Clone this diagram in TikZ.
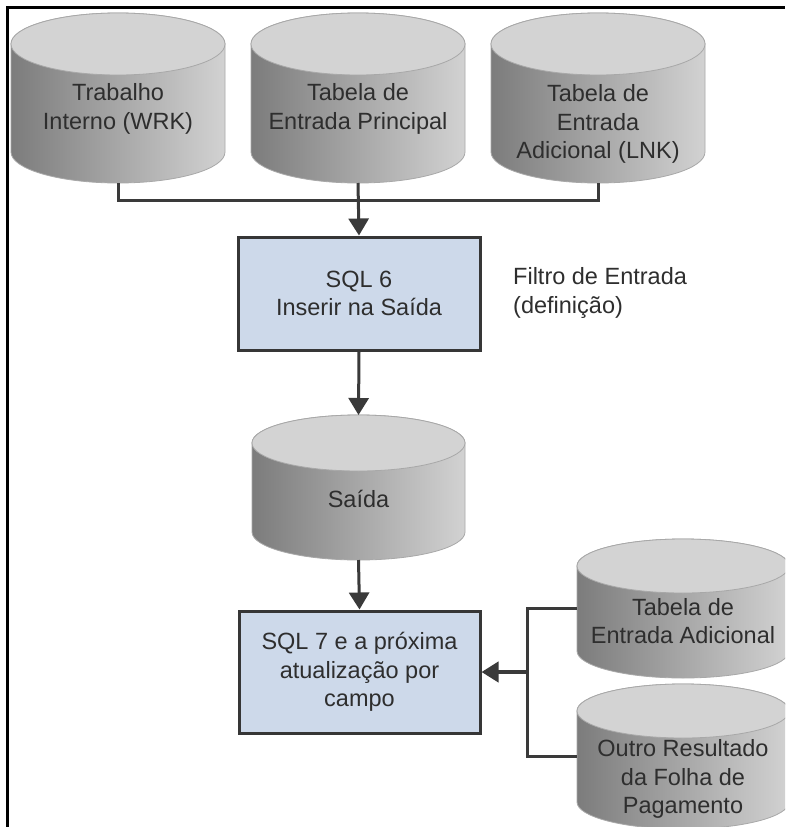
\documentclass[tikz,border=0pt]{standalone}
\usepackage{fontspec}
\setmainfont{Liberation Sans}
\usetikzlibrary{arrows.meta}
\definecolor{cylL}{HTML}{7C7C7C}
\definecolor{cylR}{HTML}{D2D2D2}
\definecolor{cylTop}{HTML}{D3D3D3}
\definecolor{cylEdge}{HTML}{A8A8A8}
\definecolor{boxFill}{HTML}{CDD9EA}
\definecolor{boxEdge}{HTML}{363636}
\definecolor{lineCol}{HTML}{3A3A3A}
\definecolor{txtCol}{HTML}{2E2E2E}
\tikzset{
  lbl/.style={font=\fontsize{23.5}{28.5}\selectfont, text=txtCol, align=center, inner sep=0pt},
  procbox/.style={draw=boxEdge, line width=3pt, fill=boxFill, font=\fontsize{23.5}{28.5}\selectfont, text=txtCol, align=center, inner sep=0pt},
  conn/.style={draw=lineCol, line width=3pt},
  arr/.style={conn, -{Triangle[length=17pt, width=20pt]}},
  frameline/.style={draw=black, line width=3pt}
}
% name, cx, ytop-centre, ybottom-centre, rx, ry, text y, text
\newcommand\dbcyl[8]{%
  \shadedraw[left color=cylL, right color=cylR, draw=cylEdge, line width=0.8pt]
    ({#2-#5},{-#3}) -- ({#2-#5},{-#4})
    arc[start angle=180, end angle=360, x radius=#5, y radius=#6]
    -- ({#2+#5},{-#3})
    arc[start angle=0, end angle=180, x radius=#5, y radius=#6] -- cycle;
  \filldraw[fill=cylTop, draw=cylEdge, line width=0.8pt] (#2,{-#3}) ellipse[x radius=#5, y radius=#6];
  \node[minimum width={2*#5}, minimum height={#4-#3+2*#6}, inner sep=0pt, outer sep=0pt]
    (#1) at (#2,{-(#3+#4)/2}) {};
  \node[lbl] (#1t) at (#2,{-#7}) {#8};
}
\begin{document}
\begin{tikzpicture}[x=1pt,y=1pt]
\useasboundingbox (0,0) rectangle (785,-827);
\clip (0,0) rectangle (785,-827);
\fill[white] (0,0) rectangle (785,-827);

% top databases
\dbcyl{c1}{118}{44}{152}{107}{31}{109}{Trabalho\\Interno (WRK)}
\dbcyl{c2}{358}{44}{152}{107}{31}{109}{Tabela de\\Entrada Principal}
\dbcyl{c3}{598}{44}{152}{107}{31}{124}{Tabela de\\Entrada\\Adicional (LNK)}

% processes
\node[procbox, minimum width=242pt, minimum height=113pt] (sql6) at (359,-293.5) {SQL 6\\Inserir na Saída};
\node[lbl, align=left, anchor=west] (filt) at (513,-293) {Filtro de Entrada\\(definição)};

\dbcyl{out}{358.5}{443}{532}{106.5}{28}{499}{Saída}

\node[procbox, minimum width=241pt, minimum height=122pt] (sql7) at (359.5,-672) {SQL 7 e a próxima\\atualização por\\campo};

\dbcyl{r1}{683}{566}{651}{106}{27}{621}{Tabela de\\Entrada Adicional}
\dbcyl{r2}{683}{711}{802}{106}{27}{779}{Outro Resultado\\da Folha de\\Pagamento}

% connectors
\coordinate (j) at (358,-200);
\draw[conn] (c1.south) |- (j) -| (c3.south);
\draw[arr] (c2.south) -- (sql6.north);
\draw[arr] (sql6.south) -- (out.north);
\draw[arr] (out.south) -- (sql7.north);
\coordinate (k) at (527,-672);
\draw[conn] (r1.west) -| (k) |- (r2.west);
\draw[arr, line width=4pt] (k) -- (sql7.east);

% frame
\draw[frameline] (7,-827) -- (7,-7) -- (785,-7);
\end{tikzpicture}
\end{document}
